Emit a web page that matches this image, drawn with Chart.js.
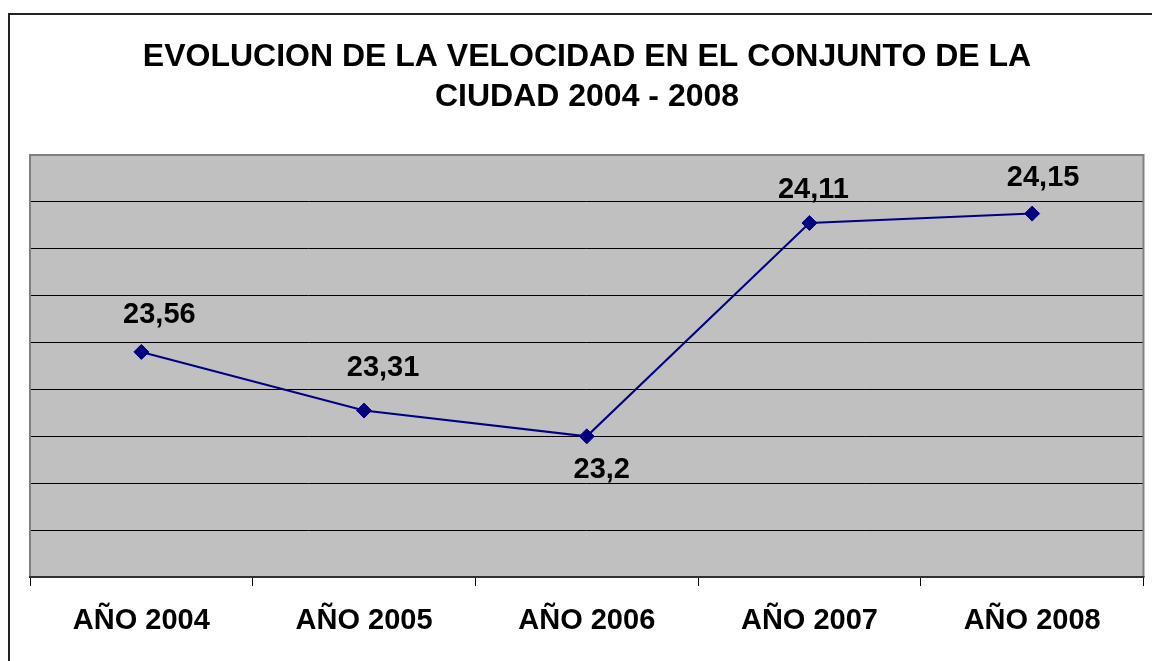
<!DOCTYPE html>
<html>
<head>
<meta charset="utf-8">
<script src="https://cdn.jsdelivr.net/npm/chart.js@4/dist/chart.umd.min.js"></script>
<style>
  html, body { margin: 0; padding: 0; background: #ffffff; }
  #c { display: block; }
</style>
</head>
<body>
<canvas id="c" width="1152" height="661"></canvas>
<script>
// ---- data ----
const titleLines = ['EVOLUCION DE LA VELOCIDAD EN EL CONJUNTO DE LA', 'CIUDAD 2004 - 2008'];
const categories = ['AÑO 2004', 'AÑO 2005', 'AÑO 2006', 'AÑO 2007', 'AÑO 2008'];
const velocidad = [23.56, 23.31, 23.2, 24.11, 24.15];
const yMin = 22.6;
const yMax = 24.4;
const yStep = 0.2;

// label placement relative to marker (style, not data)
const labelDx = [18, 19, 15, 4, 11];
const labelDy = [-37, -43, 34, -33, -36];

const FONT = '"Liberation Sans", Arial, Helvetica, sans-serif';

const decorPlugin = {
  id: 'decor',
  beforeDraw(chart) {
    const ctx = chart.ctx;
    const a = chart.chartArea;
    ctx.save();
    ctx.fillStyle = '#ffffff';
    ctx.fillRect(0, 0, chart.width, chart.height);
    // outer frame
    ctx.strokeStyle = '#222222';
    ctx.lineWidth = 2;
    ctx.strokeRect(9, 14, chart.width + 20, chart.height + 20);
    // plot background
    ctx.fillStyle = '#c0c0c0';
    ctx.fillRect(a.left, a.top, a.right - a.left, a.bottom - a.top);
    ctx.restore();
  },
  afterDraw(chart) {
    const ctx = chart.ctx;
    const a = chart.chartArea;
    ctx.save();
    ctx.strokeStyle = '#808080';
    ctx.lineWidth = 2;
    ctx.beginPath();
    ctx.moveTo(a.left, a.bottom);
    ctx.lineTo(a.left, a.top);
    ctx.lineTo(a.right, a.top);
    ctx.lineTo(a.right, a.bottom);
    ctx.stroke();
    ctx.strokeStyle = '#303030';
    ctx.lineWidth = 2;
    ctx.beginPath();
    ctx.moveTo(a.left - 1, a.bottom);
    ctx.lineTo(a.right + 1, a.bottom);
    ctx.stroke();
    ctx.restore();
  },
  afterDatasetsDraw(chart) {
    const ctx = chart.ctx;
    const meta = chart.getDatasetMeta(0);
    ctx.save();
    ctx.font = 'bold 29px ' + FONT;
    ctx.fillStyle = '#000000';
    ctx.textAlign = 'center';
    ctx.textBaseline = 'middle';
    meta.data.forEach((pt, i) => {
      const v = chart.data.datasets[0].data[i];
      const txt = String(v).replace('.', ',');
      ctx.fillText(txt, pt.x + labelDx[i], pt.y + labelDy[i]);
    });
    ctx.restore();
  }
};

new Chart(document.getElementById('c'), {
  type: 'line',
  data: {
    labels: categories,
    datasets: [{
      data: velocidad,
      borderColor: '#000080',
      backgroundColor: '#000080',
      borderWidth: 2,
      pointStyle: 'rectRot',
      pointRadius: 7.5,
      pointBorderWidth: 1,
      pointBackgroundColor: '#000080',
      pointBorderColor: '#000080',
      tension: 0,
      fill: false
    }]
  },
  options: {
    responsive: false,
    animation: false,
    devicePixelRatio: 1,
    layout: { padding: { left: 30, right: 8, top: 0, bottom: 0 } },
    plugins: {
      legend: { display: false },
      tooltip: { enabled: false },
      title: {
        display: true,
        text: titleLines,
        color: '#000000',
        font: { family: FONT, size: 32, weight: 'bold', lineHeight: 40 / 32 },
        padding: { top: 37, bottom: 38 }
      }
    },
    scales: {
      x: {
        type: 'category',
        offset: true,
        afterFit(scale) { scale.height = 84; },
        grid: {
          offset: true,
          drawOnChartArea: false,
          drawTicks: true,
          tickLength: 9,
          color: '#000000',
          lineWidth: 1
        },
        border: { display: false },
        ticks: {
          color: '#000000',
          font: { family: FONT, size: 29, weight: 'bold' },
          padding: 18,
          maxRotation: 0,
          autoSkip: false
        }
      },
      y: {
        min: yMin,
        max: yMax,
        afterFit(scale) { scale.width = 0; },
        ticks: { display: false, stepSize: yStep },
        grid: { color: '#000000', lineWidth: 1, drawTicks: false },
        border: { display: false }
      }
    }
  },
  plugins: [decorPlugin]
});
</script>
</body>
</html>
